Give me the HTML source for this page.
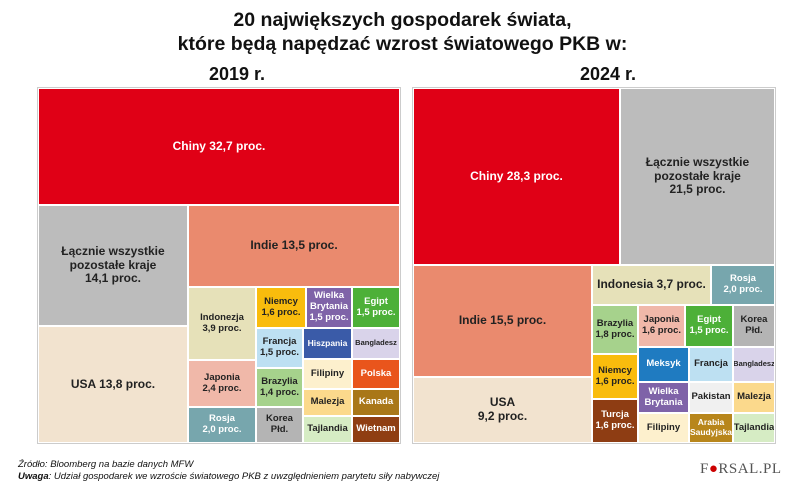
<!DOCTYPE html>
<html><head><meta charset="utf-8"><style>
body{margin:0;width:805px;height:499px;background:#fff;font-family:"Liberation Sans",sans-serif;position:relative;overflow:hidden}
.t{position:absolute;left:0;width:805px;text-align:center;font-weight:bold;font-size:19.5px;color:#111}
.y{position:absolute;font-weight:bold;font-size:18px;color:#111}
.c{position:absolute;box-sizing:border-box;border:1px solid #fff;display:flex;align-items:center;justify-content:center;text-align:center;font-size:9.5px;font-weight:bold;line-height:1.15;color:#222;overflow:hidden}
.f{position:absolute;left:18px;font-size:9.5px;font-style:italic;color:#111}
</style></head><body>
<div class="t" style="top:9px">20 największych gospodarek świata,</div>
<div class="t" style="top:33px">które będą napędzać wzrost światowego PKB w:</div>
<div class="y" style="left:209px;top:64px">2019 r.</div>
<div class="y" style="left:580px;top:64px">2024 r.</div>
<div id="p1" style="position:absolute;left:37px;top:87px;width:364px;height:357px;border:1px solid #ccc;box-sizing:border-box"></div>
<div id="p2" style="position:absolute;left:412px;top:87px;width:364px;height:357px;border:1px solid #ccc;box-sizing:border-box"></div>
<div class="f" style="top:459px">Źródło: Bloomberg na bazie danych MFW</div>
<div class="f" style="top:471px"><b>Uwaga</b>: Udział gospodarek we wzroście światowego PKB z uwzględnieniem parytetu siły nabywczej</div>
<div style="position:absolute;left:700px;top:461px;font-family:'Liberation Serif',serif;font-size:15px;color:#555;letter-spacing:0.5px">F<span style="color:#c00">●</span>RSAL.PL</div>
<script>
const W="#fff";
// [label, color, textColor, x0,y0,x1,y1]
const cells2019=[
["Chiny 32,7 proc.","#e00016",W,38,88,400,205],
["Łącznie wszystkie<br>pozostałe kraje<br>14,1 proc.","#bcbcbc","#222",38,205,188,326],
["USA 13,8 proc.","#f2e3cf","#222",38,326,188,443],
["Indie 13,5 proc.","#ea8a6e","#222",188,205,400,287],
["Indonezja<br>3,9 proc.","#e6e1b9","#222",188,287,256,360],
["Japonia<br>2,4 proc.","#f0b8a9","#222",188,360,256,407],
["Rosja<br>2,0 proc.","#77a6ad",W,188,407,256,443],
["Niemcy<br>1,6 proc.","#f9bc0d","#222",256,287,306,328],
["Wielka<br>Brytania<br>1,5 proc.","#7f63a8",W,306,287,352,328],
["Egipt<br>1,5 proc.","#4db038",W,352,287,400,328],
["Francja<br>1,5 proc.","#bde0f2","#222",256,328,303,368],
["Brazylia<br>1,4 proc.","#a6d28c","#222",256,368,303,407],
["Korea<br>Płd.","#b4b4b4","#222",256,407,303,443],
["Hiszpania","#3a5ba8",W,303,328,352,359],
["Bangladesz","#d9d3ea","#222",352,328,400,359],
["Filipiny","#fdf0cd","#222",303,359,352,389],
["Polska","#e9551c",W,352,359,400,389],
["Malezja","#fbd98c","#222",303,389,352,416],
["Kanada","#a97718",W,352,389,400,416],
["Tajlandia","#d6ecc4","#222",303,416,352,443],
["Wietnam","#8f3e12",W,352,416,400,443]];
const cells2024=[
["Chiny 28,3 proc.","#e00016",W,413,88,620,265],
["Łącznie wszystkie<br>pozostałe kraje<br>21,5 proc.","#bcbcbc","#222",620,88,775,265],
["Indie 15,5 proc.","#ea8a6e","#222",413,265,592,377],
["USA<br>9,2 proc.","#f2e3cf","#222",413,377,592,443],
["Indonesia 3,7 proc.","#e6e1b9","#222",592,265,711,305],
["Rosja<br>2,0 proc.","#77a6ad",W,711,265,775,305],
["Brazylia<br>1,8 proc.","#a6d28c","#222",592,305,638,354],
["Japonia<br>1,6 proc.","#f0b8a9","#222",638,305,685,347],
["Egipt<br>1,5 proc.","#4db038",W,685,305,733,347],
["Korea<br>Płd.","#b4b4b4","#222",733,305,775,347],
["Niemcy<br>1,6 proc.","#f9bc0d","#222",592,354,638,399],
["Turcja<br>1,6 proc.","#8e3d13",W,592,399,638,443],
["Meksyk","#1f7bc1",W,638,347,689,382],
["Wielka<br>Brytania","#7f63a8",W,638,382,689,413],
["Filipiny","#fdf0cd","#222",638,413,689,443],
["Francja","#bde0f2","#222",689,347,733,382],
["Pakistan","#f0f0f0","#222",689,382,733,413],
["Arabia<br>Saudyjska","#b8861b",W,689,413,733,443],
["Bangladesz","#d9d3ea","#222",733,347,775,382],
["Malezja","#fbd98c","#222",733,382,775,413],
["Tajlandia","#d6ecc4","#222",733,413,775,443]];
function draw(cells,yr){
  cells.forEach(c=>{
    const d=document.createElement('div');
    d.className='c';
    
    
    d.style.cssText=`left:${c[3]}px;top:${c[4]}px;width:${c[5]-c[3]}px;height:${c[6]-c[4]}px;background:${c[1]};color:${c[2]}`;
    const w=c[5]-c[3];
    if(w>100)d.style.fontSize='12px';
    if(c[0].startsWith('Bangladesz'))d.style.fontSize='7.5px';
    if(c[0].startsWith('Arabia')||c[0]==='Hiszpania')d.style.fontSize='8.5px';
    d.innerHTML=c[0];
    document.body.appendChild(d);
  });
}
draw(cells2019,'2019');draw(cells2024,'2024');
</script>
</body></html>
